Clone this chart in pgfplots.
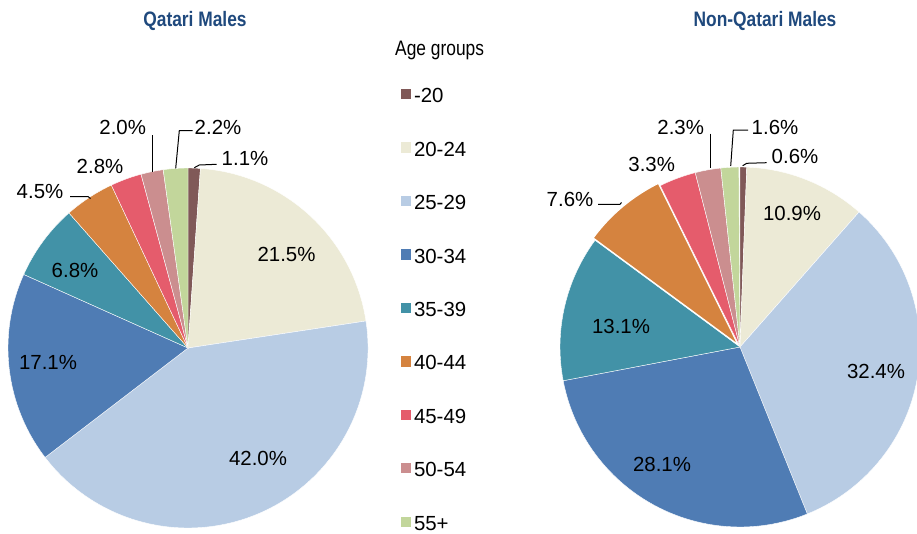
\documentclass[border=0pt]{standalone}
\usepackage{pgfplots}
\pgfplotsset{compat=1.18}
\usepackage{pgfplotstable}
\usepackage{fontspec}
\setmainfont{Liberation Sans}
\newfontfamily\narrowfont[FakeStretch=0.83]{Liberation Sans}

\definecolor{c0}{RGB}{128,89,88}
\definecolor{c1}{RGB}{236,234,214}
\definecolor{c2}{RGB}{184,204,228}
\definecolor{c3}{RGB}{79,124,180}
\definecolor{c4}{RGB}{66,146,167}
\definecolor{c5}{RGB}{213,131,63}
\definecolor{c6}{RGB}{229,92,108}
\definecolor{c7}{RGB}{203,142,143}
\definecolor{c8}{RGB}{194,214,155}
\definecolor{titleblue}{RGB}{31,73,125}

\newcommand\lab{\fontsize{20.5}{24}\selectfont}

% shares (%) and label positions (pixel coordinates, y downwards)
\pgfplotstableread{
grp   Q    N    lxQ  lyQ  lxN  lyN
-20   1.1  0.6  245  158  795  156.5
20-24 21.5 10.9 286.5 254.5 792 213
25-29 42.0 32.4 258  458  876  371
30-34 17.1 28.1 48   362  662  464
35-39 6.8  13.1 75   270  621  326
40-44 4.5  7.6  40   192  570  199
45-49 2.8  3.3  100  166  651.7 164.8
50-54 2.0  2.3  122.7 127.8 680.7 127.8
55+   2.2  1.6  218  127.8 775 127.8
}\agedata

\newcommand\computeangles[1]{%
  \gdef\cum{0}%
  \foreach \i in {0,...,8}{%
    \pgfplotstablegetelem{\i}{#1}\of\agedata
    \pgfmathsetmacro\sa{90-3.6*\cum}%
    \pgfmathsetmacro\newcum{\cum+\pgfplotsretval}%
    \pgfmathsetmacro\ea{90-3.6*\newcum}%
    \expandafter\xdef\csname #1s\i\endcsname{\sa}%
    \expandafter\xdef\csname #1e\i\endcsname{\ea}%
    \xdef\cum{\newcum}%
  }}
\computeangles{Q}
\computeangles{N}

\tikzset{
  Nx0/.style={}, Nx1/.style={}, Nx2/.style={}, Nx3/.style={}, Nx4/.style={},
  Nx5/.style={shift={(130:3bp)}, line width=1.2bp},
  Nx6/.style={}, Nx7/.style={}, Nx8/.style={}
}

\begin{document}
\begin{tikzpicture}
\begin{axis}[name=ax,
  width=917bp, height=534bp, scale only axis,
  xmin=0, xmax=917, ymin=0, ymax=534, y dir=reverse,
  enlargelimits=false, axis lines=none, clip=false,
  legend cell align=left,
  legend image code/.code={\fill[#1] (0bp,-3.8bp) rectangle (10.3bp,6.5bp);},
  legend style={draw=none, fill=none, at={(axis cs:400.7,88.2)}, anchor=north west,
    font=\lab, inner sep=0pt, outer sep=0pt, row sep=38.95bp, column sep=3bp,
    nodes={inner sep=0pt, outer sep=0pt, text height=14.5bp, text depth=0bp}},
]
\addlegendimage{draw=none, fill=c0}
\addlegendimage{draw=none, fill=c1}
\addlegendimage{draw=none, fill=c2}
\addlegendimage{draw=none, fill=c3}
\addlegendimage{draw=none, fill=c4}
\addlegendimage{draw=none, fill=c5}
\addlegendimage{draw=none, fill=c6}
\addlegendimage{draw=none, fill=c7}
\addlegendimage{draw=none, fill=c8}
\legend{-20,20-24,25-29,30-34,35-39,40-44,45-49,50-54,55+}

% Qatari males pie
\pgfplotsinvokeforeach{0,...,8}{
  \fill[c#1, draw=white, line width=0.4bp] (axis cs:188,348) -- ++(\csname Qs#1\endcsname:180bp)
    arc[start angle=\csname Qs#1\endcsname, end angle=\csname Qe#1\endcsname, radius=180bp] -- cycle;
}
% Non-Qatari males pie
\pgfplotsinvokeforeach{0,...,8}{
  \fill[c#1, draw=white, line width=0.4bp, Nx#1] (axis cs:740,347) -- ++(\csname Ns#1\endcsname:180bp)
    arc[start angle=\csname Ns#1\endcsname, end angle=\csname Ne#1\endcsname, radius=180bp] -- cycle;
}

% percentage labels
\addplot[draw=none, mark=none, point meta=explicit,
  nodes near coords={\pgfmathprintnumber[fixed,fixed zerofill,precision=1,assume math mode=true]{\pgfplotspointmeta}\%},
  nodes near coords style={anchor=center, inner sep=0pt, font=\lab, text=black}]
  table[x=lxQ, y=lyQ, meta=Q]{\agedata};
\addplot[draw=none, mark=none, point meta=explicit,
  nodes near coords={\pgfmathprintnumber[fixed,fixed zerofill,precision=1,assume math mode=true]{\pgfplotspointmeta}\%},
  nodes near coords style={anchor=center, inner sep=0pt, font=\lab, text=black}]
  table[x=lxN, y=lyN, meta=N]{\agedata};

% leader lines
\draw[line width=1bp] (axis cs:70,196.5) -- (axis cs:88,196.5) -- (axis cs:90.5,198.5);
\draw[line width=1bp] (axis cs:152.3,135) -- (axis cs:152.3,171.5);
\draw[line width=1bp] (axis cs:175.7,168.3) -- (axis cs:179.3,130.7) -- (axis cs:192.7,130.7);
\draw[line width=1bp] (axis cs:194.3,167.7) -- (axis cs:199.3,165) -- (axis cs:216.7,164.3);
\draw[line width=1bp] (axis cs:598,204.3) -- (axis cs:620,204.3) -- (axis cs:621.5,202.5);
\draw[line width=1bp] (axis cs:710,133.5) -- (axis cs:710,168);
\draw[line width=1bp] (axis cs:730.7,166) -- (axis cs:733.3,130) -- (axis cs:748,130);
\draw[line width=1bp] (axis cs:742.7,165.7) -- (axis cs:746.7,163.3) -- (axis cs:766.7,162.7);

% titles
\node[anchor=base, inner sep=0pt, text=titleblue, font={\narrowfont\bfseries\fontsize{21}{25}\selectfont}] at (axis cs:195,26.5) {Qatari Males};
\node[anchor=base, inner sep=0pt, text=titleblue, font={\narrowfont\bfseries\fontsize{21}{25}\selectfont}] at (axis cs:765,26.5) {Non-Qatari Males};
\node[anchor=base west, inner sep=0pt, font={\narrowfont\fontsize{21}{25}\selectfont}] at (axis cs:395,55.7) {Age groups};
\end{axis}
\pgfresetboundingbox
\path[use as bounding box] (ax.south west) rectangle (ax.north east);
\end{tikzpicture}
\end{document}
